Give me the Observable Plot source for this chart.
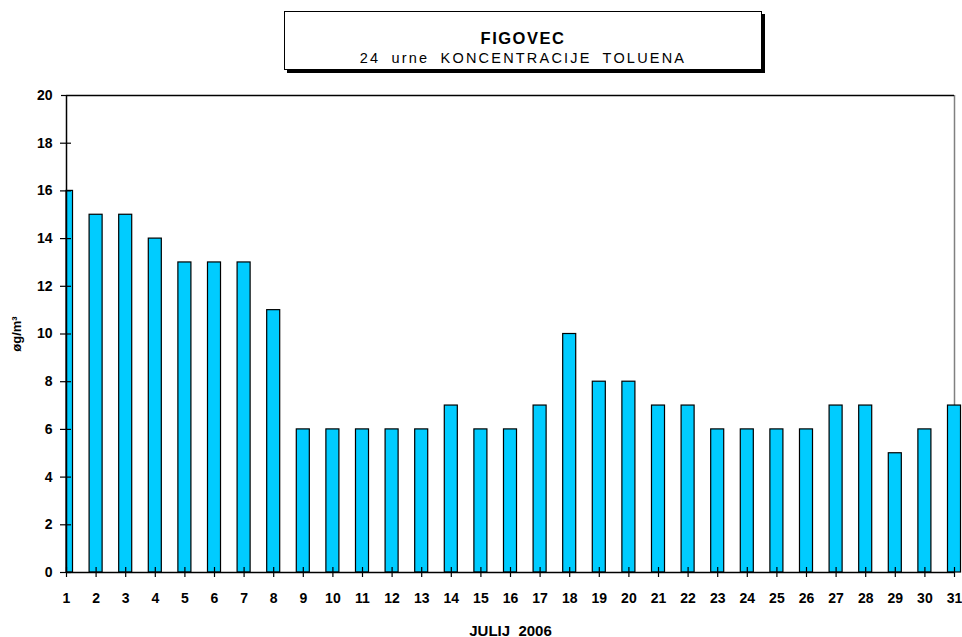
<!DOCTYPE html>
<html>
<head>
<meta charset="utf-8">
<script src="https://cdn.jsdelivr.net/npm/d3@7"></script>
<script src="https://cdn.jsdelivr.net/npm/@observablehq/plot@0.6"></script>
<style>
  body { margin: 0; background: #fff; font-family: "Liberation Sans", Arial, sans-serif; }
  #wrap { position: relative; width: 962px; height: 637px; }
  #title {
    position: absolute; left: 284px; top: 11px; width: 476px; height: 57px;
    border: 1px solid #000; background: #fff; box-shadow: 3px 3px 0 #000;
    text-align: center; box-sizing: content-box;
  }
  #t1 { position: absolute; left: 0; right: 0; top: 17px; font-weight: bold; font-size: 16.5px; letter-spacing: 1.5px; line-height: 18px; }
  #t2 { position: absolute; left: 0; right: 0; top: 38px; font-size: 14.5px; letter-spacing: 2.2px; word-spacing: 5px; line-height: 17px; }
</style>
</head>
<body>
<div id="wrap">
  <div id="chart"></div>
  <div id="title"><div id="t1">FIGOVEC</div><div id="t2">24 urne KONCENTRACIJE TOLUENA</div></div>
</div>
<script>
const days = d3.range(1, 32);
const values = [16,15,15,14,13,13,13,11,6,6,6,6,6,7,6,6,7,10,8,8,7,7,6,6,6,6,7,7,5,6,7];
const yTicks = [0,2,4,6,8,10,12,14,16,18,20];
const xTitle = "JULIJ  2006";
const yTitle = "øg/m³";
const data = days.map((d, i) => ({day: d, value: values[i]}));
const half = 0.22;

const chart = Plot.plot({
  width: 962,
  height: 637,
  marginLeft: 66,
  marginRight: 8,
  marginTop: 95,
  marginBottom: 65,
  style: {fontFamily: "'Liberation Sans', Arial, sans-serif", fontSize: "13px", fontWeight: "bold", color: "#000", background: "#fff", whiteSpace: "pre"},
  x: {type: "linear", domain: [1, 31]},
  y: {domain: [0, 20]},
  marks: [
    Plot.ruleX([31], {y1: 20, y2: 0, stroke: "#808080", strokeWidth: 1.5}),
    Plot.rectY(data, {x1: d => Math.max(1, d.day - half), x2: d => d.day + half, y1: 0, y2: "value", fill: "#00CCFF", stroke: "#000", strokeWidth: 1.2}),
    Plot.ruleY([0], {stroke: "#000", strokeWidth: 1.5}),
    Plot.ruleY([20], {stroke: "#000", strokeWidth: 1.5}),
    Plot.ruleX([1], {stroke: "#000", strokeWidth: 1.5}),
    Plot.axisY({ticks: yTicks, tickSize: 0, tickPadding: 14, fontSize: 14, fontWeight: "bold", label: null}),
    Plot.axisY({ticks: yTicks.slice(0, -1), tickSize: 11, dx: 5, tickFormat: () => "", label: null, strokeWidth: 1.2}),
    Plot.axisY({ticks: [20], tickSize: 5, tickFormat: () => "", label: null, strokeWidth: 1.2}),
    Plot.axisX({ticks: days, tickSize: 10, dy: -5, tickFormat: () => "", label: null, strokeWidth: 1.2}),
    Plot.axisX({ticks: days, tickSize: 0, tickPadding: 21, tickFormat: d => String(d), fontSize: 14, fontWeight: "bold", label: null}),
    Plot.text([xTitle], {frameAnchor: "bottom", dy: 63, text: d => d, fontSize: 15, fontWeight: "bold", lineAnchor: "bottom", textAnchor: "middle"}),
    Plot.text([yTitle], {frameAnchor: "left", dx: -50, rotate: -90, text: d => d, fontSize: 13, fontWeight: "bold", textAnchor: "middle"})
  ]
});
document.getElementById("chart").appendChild(chart);
</script>
</body>
</html>
